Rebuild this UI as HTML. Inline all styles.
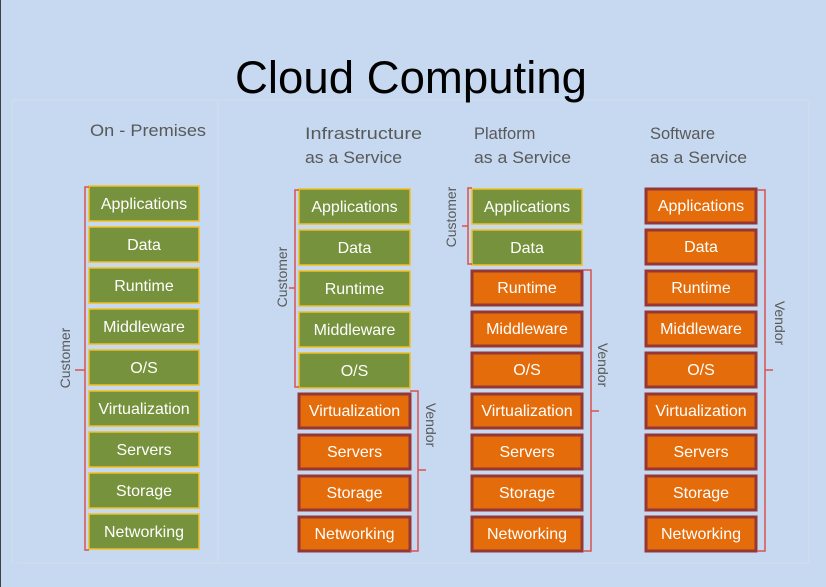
<!DOCTYPE html>
<html><head><meta charset="utf-8"><style>
html,body{margin:0;padding:0;background:#c6d9f0;}
svg{display:block;}
.b{font-family:"Liberation Sans",sans-serif;font-size:16px;fill:#fff;text-anchor:middle;}
.h{font-family:"Liberation Sans",sans-serif;font-size:16.5px;fill:#595959;}
.l{font-family:"Liberation Sans",sans-serif;font-size:14px;fill:#595959;text-anchor:middle;}
.g{fill:#76923c;stroke:#f2c01e;stroke-width:1.5;}
.o{fill:#e46c0a;stroke:#953735;stroke-width:3;}
.br{fill:none;stroke:#d9534f;stroke-width:1.5;}
</style></head><body>
<svg width="826" height="587" viewBox="0 0 826 587" xmlns="http://www.w3.org/2000/svg">
<rect width="826" height="587" fill="#c6d9f0"/>
<line x1="0.5" y1="0" x2="0.5" y2="587" stroke="#404040" stroke-width="1"/>
<g stroke="#d3ddea" stroke-width="1" fill="none">
<line x1="12" y1="100" x2="810" y2="100"/>
<line x1="18" y1="563" x2="810" y2="563"/>
<line x1="12" y1="100" x2="12" y2="563"/>
<line x1="218" y1="100" x2="218" y2="563"/>
<line x1="809" y1="100" x2="809" y2="563"/>
</g>
<text x="411" y="93" font-family="Liberation Sans,sans-serif" font-size="45" fill="#000" text-anchor="middle" textLength="352" lengthAdjust="spacingAndGlyphs">Cloud Computing</text>
<text class="h" x="90" y="136" textLength="116" lengthAdjust="spacingAndGlyphs">On - Premises</text>
<text class="h" x="305" y="139" textLength="117" lengthAdjust="spacingAndGlyphs">Infrastructure</text>
<text class="h" x="305" y="163" textLength="97" lengthAdjust="spacingAndGlyphs">as a Service</text>
<text class="h" x="474" y="139">Platform</text>
<text class="h" x="474" y="163" textLength="97" lengthAdjust="spacingAndGlyphs">as a Service</text>
<text class="h" x="650" y="139">Software</text>
<text class="h" x="650" y="163" textLength="97" lengthAdjust="spacingAndGlyphs">as a Service</text>

<g>
<rect class="g" x="89" y="186" width="110" height="35"/><text class="b" x="144" y="209">Applications</text>
<rect class="g" x="89" y="227" width="110" height="35"/><text class="b" x="144" y="250">Data</text>
<rect class="g" x="89" y="268" width="110" height="35"/><text class="b" x="144" y="291">Runtime</text>
<rect class="g" x="89" y="309" width="110" height="35"/><text class="b" x="144" y="332">Middleware</text>
<rect class="g" x="89" y="350" width="110" height="35"/><text class="b" x="144" y="373">O/S</text>
<rect class="g" x="89" y="391" width="110" height="35"/><text class="b" x="144" y="414">Virtualization</text>
<rect class="g" x="89" y="432" width="110" height="35"/><text class="b" x="144" y="455">Servers</text>
<rect class="g" x="89" y="473" width="110" height="35"/><text class="b" x="144" y="496">Storage</text>
<rect class="g" x="89" y="514" width="110" height="35"/><text class="b" x="144" y="537">Networking</text>
</g>
<path class="br" d="M89 187 H85 V550 H89 M85 370 H75"/>
<text class="l" transform="translate(70,358) rotate(-90)">Customer</text>

<g>
<rect class="g" x="299" y="189" width="111" height="35"/><text class="b" x="354.5" y="212">Applications</text>
<rect class="g" x="299" y="230" width="111" height="35"/><text class="b" x="354.5" y="253">Data</text>
<rect class="g" x="299" y="271" width="111" height="35"/><text class="b" x="354.5" y="294">Runtime</text>
<rect class="g" x="299" y="312" width="111" height="35"/><text class="b" x="354.5" y="335">Middleware</text>
<rect class="g" x="299" y="353" width="111" height="35"/><text class="b" x="354.5" y="376">O/S</text>
<rect class="o" x="299" y="394" width="111" height="34"/><text class="b" x="354.5" y="416">Virtualization</text>
<rect class="o" x="299" y="435" width="111" height="34"/><text class="b" x="354.5" y="457">Servers</text>
<rect class="o" x="299" y="476" width="111" height="34"/><text class="b" x="354.5" y="498">Storage</text>
<rect class="o" x="299" y="517" width="111" height="34"/><text class="b" x="354.5" y="539">Networking</text>
</g>
<path class="br" d="M299 190 H295 V387 H299 M295 288 H289"/>
<text class="l" transform="translate(287,277) rotate(-90)">Customer</text>
<path class="br" d="M410 391 H418 V551 H410 M418 470 H426"/>
<text class="l" transform="translate(426,425) rotate(90)">Vendor</text>

<g>
<rect class="g" x="472" y="189" width="110" height="35"/><text class="b" x="527" y="212">Applications</text>
<rect class="g" x="472" y="230" width="110" height="35"/><text class="b" x="527" y="253">Data</text>
<rect class="o" x="472" y="271" width="110" height="34"/><text class="b" x="527" y="293">Runtime</text>
<rect class="o" x="472" y="312" width="110" height="34"/><text class="b" x="527" y="334">Middleware</text>
<rect class="o" x="472" y="353" width="110" height="34"/><text class="b" x="527" y="375">O/S</text>
<rect class="o" x="472" y="394" width="110" height="34"/><text class="b" x="527" y="416">Virtualization</text>
<rect class="o" x="472" y="435" width="110" height="34"/><text class="b" x="527" y="457">Servers</text>
<rect class="o" x="472" y="476" width="110" height="34"/><text class="b" x="527" y="498">Storage</text>
<rect class="o" x="472" y="517" width="110" height="34"/><text class="b" x="527" y="539">Networking</text>
</g>
<path class="br" d="M472 188 H468 V264 H472 M468 226 H462"/>
<text class="l" transform="translate(456,217) rotate(-90)">Customer</text>
<path class="br" d="M583 270 H591 V551 H583 M591 411 H599"/>
<text class="l" transform="translate(598,365) rotate(90)">Vendor</text>

<g>
<rect class="o" x="646" y="189" width="110" height="34"/><text class="b" x="701" y="211">Applications</text>
<rect class="o" x="646" y="230" width="110" height="34"/><text class="b" x="701" y="252">Data</text>
<rect class="o" x="646" y="271" width="110" height="34"/><text class="b" x="701" y="293">Runtime</text>
<rect class="o" x="646" y="312" width="110" height="34"/><text class="b" x="701" y="334">Middleware</text>
<rect class="o" x="646" y="353" width="110" height="34"/><text class="b" x="701" y="375">O/S</text>
<rect class="o" x="646" y="394" width="110" height="34"/><text class="b" x="701" y="416">Virtualization</text>
<rect class="o" x="646" y="435" width="110" height="34"/><text class="b" x="701" y="457">Servers</text>
<rect class="o" x="646" y="476" width="110" height="34"/><text class="b" x="701" y="498">Storage</text>
<rect class="o" x="646" y="517" width="110" height="34"/><text class="b" x="701" y="539">Networking</text>
</g>
<path class="br" d="M757 190 H765 V551 H757 M765 370 H773"/>
<text class="l" transform="translate(775,323) rotate(90)">Vendor</text>
</svg>
</body></html>
